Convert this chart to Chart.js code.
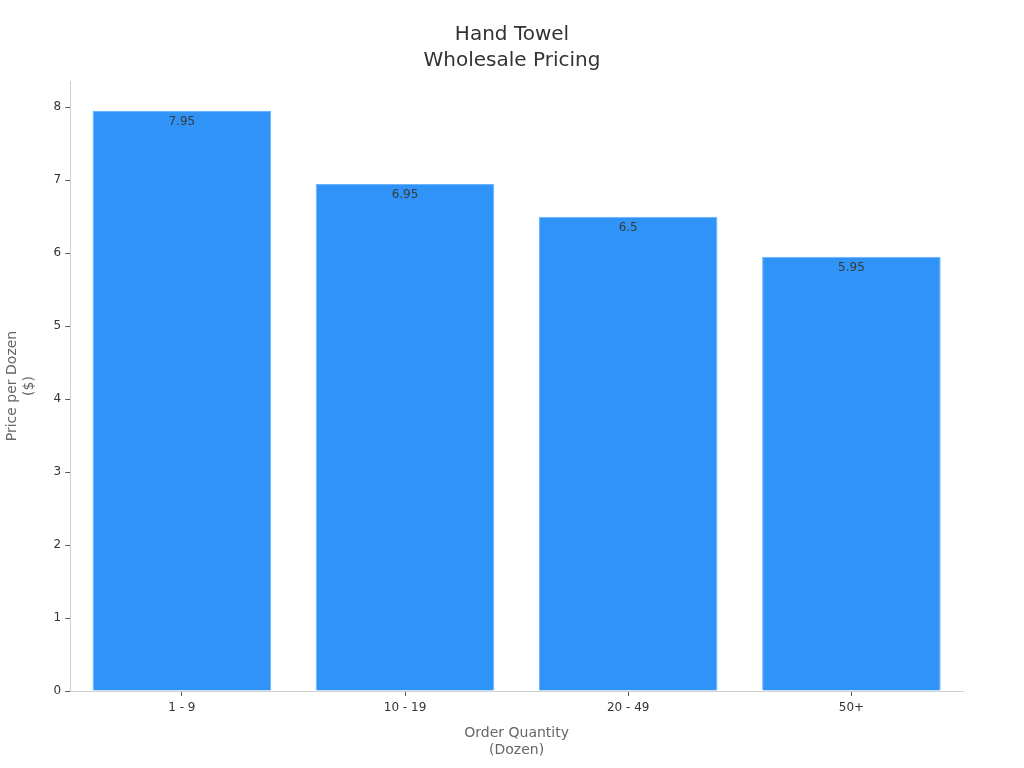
<!DOCTYPE html>
<html>
<head>
<meta charset="utf-8">
<script src="https://cdn.jsdelivr.net/npm/chart.js@4"></script>
<style>
html,body{margin:0;padding:0;background:#fff;}
#wrap{width:1024px;height:768px;}
</style>
</head>
<body>
<div id="wrap"><canvas id="c" width="1024" height="768"></canvas></div>
<script>
const categories = ["1 - 9", "10 - 19", "20 - 49", "50+"];
const prices = [7.95, 6.95, 6.5, 5.95];
const yTicks = [0, 1, 2, 3, 4, 5, 6, 7, 8];

const labelPlugin = {
  id: 'barLabels',
  afterDatasetsDraw(chart) {
    const ctx = chart.ctx;
    const meta = chart.getDatasetMeta(0);
    ctx.save();
    ctx.font = '12px "DejaVu Sans", sans-serif';
    ctx.fillStyle = '#3a3a3a';
    ctx.textAlign = 'center';
    ctx.textBaseline = 'top';
    meta.data.forEach((bar, i) => {
      ctx.fillText(String(prices[i]), bar.x, bar.y + 5);
    });
    ctx.restore();
  }
};

Chart.defaults.font.family = '"DejaVu Sans", sans-serif';
new Chart(document.getElementById('c'), {
  type: 'bar',
  data: {
    labels: categories,
    datasets: [{
      data: prices,
      backgroundColor: '#2f93f8',
      borderColor: '#6ab4ff',
      borderWidth: 1,
      barPercentage: 0.8,
      categoryPercentage: 1.0
    }]
  },
  options: {
    responsive: false,
    animation: false,
    layout: { padding: { top: 14, right: 0, left: 0, bottom: 5 } },
    plugins: {
      legend: { display: false },
      tooltip: { enabled: false },
      title: {
        display: true,
        text: ['Hand Towel', 'Wholesale Pricing'],
        color: '#333',
        font: { size: 20, weight: 'normal', lineHeight: 1.3 },
        padding: { top: 8, bottom: 7 }
      }
    },
    scales: {
      x: {
        border: { color: '#d0d0d0' },
        grid: { display: true, offset: false, drawOnChartArea: false, drawTicks: true, tickLength: 5, color: '#555' },
        ticks: { color: '#333', font: { size: 12 }, padding: 5 },
        title: {
          display: true,
          text: ['Order Quantity', '(Dozen)'],
          color: '#666',
          font: { size: 14 },
          padding: { top: 5 }
        }
      },
      y: {
        min: 0,
        max: 8.36,
        afterBuildTicks(axis) { axis.ticks = yTicks.map(v => ({ value: v })); },
        border: { color: '#d0d0d0' },
        grid: { display: true, drawOnChartArea: false, drawTicks: true, tickLength: 5, color: '#555' },
        ticks: { color: '#333', font: { size: 12 }, padding: 4 },
        title: {
          display: true,
          text: ['Price per Dozen', '($)'],
          color: '#666',
          font: { size: 14 },
          padding: { bottom: 12 }
        }
      },
      yRight: {
        position: 'right',
        display: true,
        grid: { display: false },
        border: { display: false },
        ticks: { display: false },
        afterFit(scale) { scale.width = 61; }
      }
    }
  },
  plugins: [labelPlugin]
});
</script>
</body>
</html>
